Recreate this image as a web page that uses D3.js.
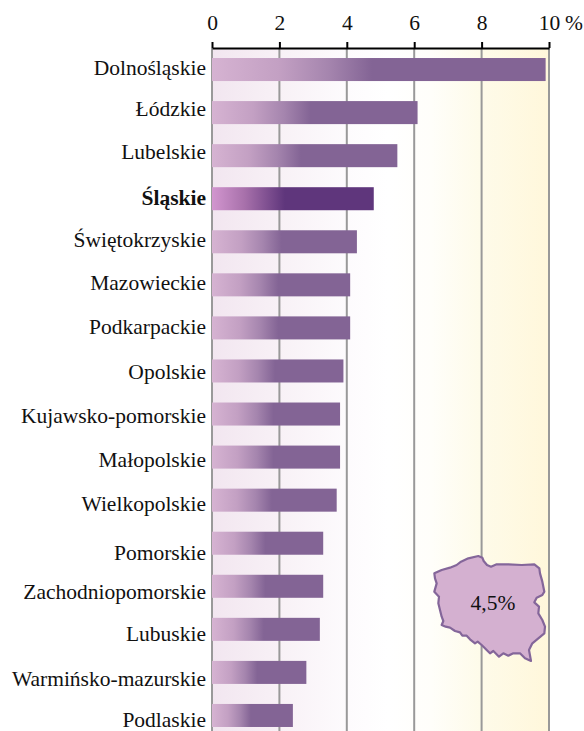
<!DOCTYPE html>
<html>
<head>
<meta charset="utf-8">
<script src="https://cdn.jsdelivr.net/npm/d3@7"></script>
<style>
  body { margin: 0; background: #fff; }
  svg { display: block; }
  text { font-family: "Liberation Serif", serif; font-size: 21.5px; fill: #111; }
</style>
</head>
<body>
<div id="chart"></div>
<script>
const regions = ["Dolnośląskie", "Łódzkie", "Lubelskie", "Śląskie", "Świętokrzyskie", "Mazowieckie",
  "Podkarpackie", "Opolskie", "Kujawsko-pomorskie", "Małopolskie", "Wielkopolskie", "Pomorskie",
  "Zachodniopomorskie", "Lubuskie", "Warmińsko-mazurskie", "Podlaskie"];
const values = [9.9, 6.1, 5.5, 4.8, 4.3, 4.1, 4.1, 3.9, 3.8, 3.8, 3.7, 3.3, 3.3, 3.2, 2.8, 2.4];
const ticks = [0, 2, 4, 6, 8, 10];
const highlight = "Śląskie";
const national = "4,5%";

// the labels in the original drift away from their bars further down the page
const labelDrift = [5.5, 3.5, 3, 6.5, 5, 5.5, 6.5, 8, 9, 10, 11, 17, 12.5, 12, 13.5, 12];

// outline of the country in zoomed (3x) pixels
const outline = [[28,85],[50,75],[75,68],[95,60],[108,50],[130,40],[160,33],[172,38],[176,48],[186,60],[198,65],
  [215,58],[250,58],[290,60],[328,58],[343,70],[345,85],[352,110],[358,140],[352,150],[335,158],[328,172],
  [342,185],[340,205],[352,225],[360,245],[358,265],[340,280],[322,295],[312,315],[318,348],[300,340],
  [285,325],[265,325],[250,332],[235,325],[222,335],[205,318],[195,325],[185,315],[170,300],[158,290],
  [150,295],[135,283],[125,272],[112,272],[105,262],[90,258],[75,248],[62,245],[50,240],[55,228],[50,215],
  [45,195],[40,175],[42,155],[28,140],[35,115],[30,100]];

const width = 584, height = 731;
const svg = d3.select("#chart").append("svg").attr("width", width).attr("height", height);

const x = d3.scaleLinear().domain([0, 10]).range([212, 549]);
const y = d3.scaleBand().domain(regions).range([48, 737]).paddingInner(20 / 43).paddingOuter(10 / 43);

const defs = svg.append("defs");

function addGradient(id, stops) {
  const g = defs.append("linearGradient").attr("id", id);
  stops.forEach(s => g.append("stop").attr("offset", s[0]).attr("stop-color", s[1]));
}

addGradient("bg", [[0, "#f2e6f0"], [0.2, "#f8f1f6"], [0.4, "#fdfbfd"], [0.52, "#ffffff"], [0.65, "#fffefa"], [0.8, "#fefbe9"], [1, "#fff7db"]]);
addGradient("bar", [[0, "#d6b3d2"], [0.2, "#c3a0c3"], [0.35, "#a585ae"], [0.48, "#836495"], [1, "#836495"]]);
addGradient("barHi", [[0, "#d296cf"], [0.2, "#a871ab"], [0.45, "#5f367c"], [1, "#5f367c"]]);

svg.append("rect")
  .attr("x", x(0)).attr("y", 48)
  .attr("width", x(10) - x(0)).attr("height", height - 48)
  .attr("fill", "url(#bg)");

svg.selectAll("line.grid")
  .data(ticks)
  .enter()
  .append("line")
  .attr("class", "grid")
  .attr("x1", d => x(d)).attr("x2", d => x(d))
  .attr("y1", 48).attr("y2", height)
  .attr("stroke", "#999")
  .attr("stroke-width", 2);

const axis = svg.append("g")
  .attr("transform", "translate(0,48)")
  .call(d3.axisTop(x).tickValues(ticks).tickSize(6).tickSizeOuter(0).tickPadding(12));
axis.select(".domain").attr("stroke", "#000").attr("stroke-width", 2);
axis.selectAll(".tick line").attr("stroke", "#000").attr("stroke-width", 2);
axis.selectAll(".tick text").attr("font-family", null).attr("font-size", null);
axis.attr("font-size", null).attr("font-family", null);

svg.append("text").attr("x", x(10) + 16).attr("y", 30).text("%");

svg.selectAll("rect.bar")
  .data(regions)
  .enter()
  .append("rect")
  .attr("class", "bar")
  .attr("x", x(0))
  .attr("y", d => y(d))
  .attr("width", (d, i) => x(values[i]) - x(0))
  .attr("height", y.bandwidth())
  .attr("fill", d => d === highlight ? "url(#barHi)" : "url(#bar)");

svg.selectAll("text.region")
  .data(regions)
  .enter()
  .append("text")
  .attr("class", "region")
  .attr("x", 206)
  .attr("y", (d, i) => y(d) + y.bandwidth() / 2 + labelDrift[i])
  .attr("text-anchor", "end")
  .attr("font-weight", d => d === highlight ? "bold" : null)
  .text(d => d);

// country inset, placed through scales from the zoomed reference pixels
const mapX = d3.scaleLinear().domain([0, 390]).range([425, 555]);
const mapY = d3.scaleLinear().domain([0, 375]).range([545, 670]);
const mapLine = d3.line().x(d => mapX(d[0])).y(d => mapY(d[1])).curve(d3.curveLinearClosed);

svg.append("path")
  .attr("d", mapLine(outline))
  .attr("fill", "#d4b0d0")
  .attr("stroke", "#84669a")
  .attr("stroke-width", 2.2)
  .attr("stroke-linejoin", "round");

svg.append("text")
  .attr("x", 493).attr("y", 610)
  .attr("text-anchor", "middle")
  .text(national);
</script>
</body>
</html>
